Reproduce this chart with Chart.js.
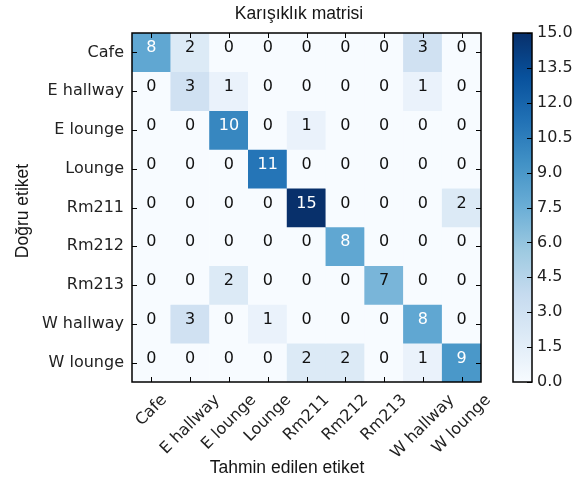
<!DOCTYPE html>
<html>
<head>
<meta charset="utf-8">
<script src="https://cdn.jsdelivr.net/npm/chart.js@4/dist/chart.umd.min.js"></script>
<style>
  html, body { margin: 0; padding: 0; background: #ffffff; }
  #wrap { position: relative; width: 582px; height: 481px; overflow: hidden; background: #ffffff; }
  #matrix { position: absolute; left: 0; top: 0; }
  #scaleBar { position: absolute; left: 490px; top: 0; }
</style>
</head>
<body>
<div id="wrap">
  <canvas id="matrix" width="582" height="481"></canvas>
  <canvas id="scaleBar" width="92" height="481"></canvas>
</div>
<script>
// Class names (same order on both axes)
const categories = ['Cafe', 'E hallway', 'E lounge', 'Lounge', 'Rm211', 'Rm212', 'Rm213', 'W hallway', 'W lounge'];

// Counts per true class (rows), one entry per predicted class (columns)
const rowCafe     = [8, 2, 0, 0, 0, 0, 0, 3, 0];
const rowEHallway = [0, 3, 1, 0, 0, 0, 0, 1, 0];
const rowELounge  = [0, 0, 10, 0, 1, 0, 0, 0, 0];
const rowLounge   = [0, 0, 0, 11, 0, 0, 0, 0, 0];
const rowRm211    = [0, 0, 0, 0, 15, 0, 0, 0, 2];
const rowRm212    = [0, 0, 0, 0, 0, 8, 0, 0, 0];
const rowRm213    = [0, 0, 2, 0, 0, 0, 7, 0, 0];
const rowWHallway = [0, 3, 0, 1, 0, 0, 0, 8, 0];
const rowWLounge  = [0, 0, 0, 0, 2, 2, 0, 1, 9];

// Colour bar tick values
const colorbarTicks = [0, 1.5, 3, 4.5, 6, 7.5, 9, 10.5, 12, 13.5, 15];

const chartTitle = 'Karışıklık matrisi';
const xAxisTitle = 'Tahmin edilen etiket';
const yAxisTitle = 'Doğru etiket';

const matrixRows = [rowCafe, rowEHallway, rowELounge, rowLounge, rowRm211, rowRm212, rowRm213, rowWHallway, rowWLounge];
const valueMax = Math.max(...matrixRows.flat());
const textThreshold = valueMax / 2;

// "Blues" sequential palette
const bluesStops = ['#f7fbff', '#deebf7', '#c6dbef', '#9ecae1', '#6baed6', '#4292c6', '#2171b5', '#08519c', '#08306b'];

function hexToRgb(h) {
  const n = parseInt(h.slice(1), 16);
  return [(n >> 16) & 255, (n >> 8) & 255, n & 255];
}
function bluesAt(t) {
  t = Math.max(0, Math.min(1, t));
  const pos = t * (bluesStops.length - 1);
  const i = Math.min(Math.floor(pos), bluesStops.length - 2);
  const f = pos - i;
  const a = hexToRgb(bluesStops[i]), b = hexToRgb(bluesStops[i + 1]);
  const c = a.map((v, k) => Math.round(v + (b[k] - v) * f));
  return `rgb(${c[0]},${c[1]},${c[2]})`;
}

const tickFont = { family: 'DejaVu Sans', size: 16 };
const tickColor = '#222222';
const captionFont = '17.5px "Liberation Sans", Arial, sans-serif';
const captionColor = '#151515';

// Each row becomes one dataset of floating bars spanning that row's band
const datasets = matrixRows.map((row, r) => ({
  label: categories[r],
  data: row.map(() => [r - 0.5, r + 0.5]),
  counts: row,
  backgroundColor: row.map(v => bluesAt(v / valueMax)),
  borderWidth: 0,
  grouped: false,
  barPercentage: 1,
  categoryPercentage: 1
}));

const matrixDecor = {
  id: 'matrixDecor',
  afterDatasetsDraw(chart) {
    const { ctx, scales: { x, y } } = chart;
    ctx.save();
    ctx.font = `${tickFont.size}px "${tickFont.family}"`;
    ctx.textAlign = 'center';
    ctx.textBaseline = 'alphabetic';
    chart.data.datasets.forEach((ds, r) => {
      ds.counts.forEach((v, c) => {
        ctx.fillStyle = v > textThreshold ? '#ffffff' : '#111111';
        ctx.fillText(String(v), x.getPixelForValue(c), y.getPixelForValue(r));
      });
    });
    ctx.restore();
  },
  afterDraw(chart) {
    const { ctx, chartArea: a, scales: { x, y } } = chart;
    ctx.save();
    // inward tick marks on all four sides
    ctx.strokeStyle = '#000000';
    ctx.lineWidth = 1;
    ctx.beginPath();
    categories.forEach((_, i) => {
      const px = Math.round(x.getPixelForValue(i)) + 0.5;
      ctx.moveTo(px, a.bottom); ctx.lineTo(px, a.bottom - 5);
      ctx.moveTo(px, a.top); ctx.lineTo(px, a.top + 5);
      const py = Math.round(y.getPixelForValue(i)) + 0.5;
      ctx.moveTo(a.left, py); ctx.lineTo(a.left + 5, py);
      ctx.moveTo(a.right, py); ctx.lineTo(a.right - 5, py);
    });
    ctx.stroke();
    // axes frame
    ctx.lineWidth = 1.5;
    ctx.strokeRect(a.left, a.top, a.right - a.left, a.bottom - a.top);

    // rotated column labels, centred under their ticks
    ctx.font = `${tickFont.size}px "${tickFont.family}"`;
    ctx.fillStyle = tickColor;
    ctx.textAlign = 'right';
    ctx.textBaseline = 'middle';
    const c45 = Math.SQRT1_2;
    const labelTop = a.bottom + 10;
    categories.forEach((label, i) => {
      const w = ctx.measureText(label).width;
      const tx = x.getPixelForValue(i) + c45 * w / 2;
      const ty = labelTop + c45 * tickFont.size / 2;
      ctx.save();
      ctx.translate(tx, ty);
      ctx.rotate(-Math.PI / 4);
      ctx.fillText(label, 0, 0);
      ctx.restore();
    });

    // captions
    ctx.font = captionFont;
    ctx.fillStyle = captionColor;
    ctx.textAlign = 'center';
    ctx.textBaseline = 'alphabetic';
    ctx.fillText(chartTitle, 299, 19);
    ctx.fillText(xAxisTitle, 287, 473);
    ctx.save();
    ctx.translate(28, 211);
    ctx.rotate(-Math.PI / 2);
    ctx.fillText(yAxisTitle, 0, 0);
    ctx.restore();
    ctx.restore();
  }
};

new Chart(document.getElementById('matrix'), {
  type: 'bar',
  data: { labels: categories, datasets },
  options: {
    responsive: false,
    animation: false,
    events: [],
    layout: { padding: { top: 33, right: 101, bottom: 0, left: 0 } },
    scales: {
      x: {
        type: 'category',
        offset: true,
        grid: { display: false, drawTicks: false },
        border: { display: false },
        ticks: { display: false },
        afterFit(s) { s.height = 99; }
      },
      y: {
        type: 'linear',
        reverse: true,
        min: -0.5,
        max: categories.length - 0.5,
        afterBuildTicks(s) { s.ticks = categories.map((_, i) => ({ value: i })); },
        ticks: {
          callback: v => categories[v],
          font: tickFont,
          color: tickColor,
          padding: 8,
          autoSkip: false
        },
        grid: { display: false, drawTicks: false },
        border: { display: false },
        afterFit(s) { s.width = 132; }
      }
    },
    plugins: { legend: { display: false }, tooltip: { enabled: false }, title: { display: false } }
  },
  plugins: [matrixDecor]
});

// Colour bar
const colorbarDecor = {
  id: 'colorbarDecor',
  afterDraw(chart) {
    const { ctx, chartArea: a, scales: { y } } = chart;
    ctx.save();
    ctx.strokeStyle = '#000000';
    ctx.lineWidth = 1;
    ctx.beginPath();
    colorbarTicks.forEach(v => {
      const py = Math.round(y.getPixelForValue(v)) + 0.5;
      ctx.moveTo(a.right, py); ctx.lineTo(a.right - 5, py);
    });
    ctx.stroke();
    ctx.lineWidth = 1.5;
    ctx.strokeRect(a.left, a.top, a.right - a.left, a.bottom - a.top);
    ctx.restore();
  }
};

new Chart(document.getElementById('scaleBar'), {
  type: 'bar',
  data: {
    labels: [''],
    datasets: [{
      data: [[0, valueMax]],
      backgroundColor(c) {
        const chart = c.chart;
        if (!chart.chartArea) return bluesStops[0];
        const ys = chart.scales.y;
        const g = chart.ctx.createLinearGradient(0, ys.getPixelForValue(0), 0, ys.getPixelForValue(valueMax));
        bluesStops.forEach((col, i) => g.addColorStop(i / (bluesStops.length - 1), col));
        return g;
      },
      borderWidth: 0,
      barPercentage: 1,
      categoryPercentage: 1
    }]
  },
  options: {
    responsive: false,
    animation: false,
    events: [],
    layout: { padding: { left: 23, right: 0, top: 33, bottom: 99 } },
    scales: {
      x: { display: false },
      y: {
        position: 'right',
        min: 0,
        max: valueMax,
        afterBuildTicks(s) { s.ticks = colorbarTicks.map(v => ({ value: v })); },
        ticks: { callback: v => v.toFixed(1), font: tickFont, color: tickColor, padding: 5, autoSkip: false },
        grid: { display: false, drawTicks: false },
        border: { display: false },
        afterFit(s) { s.width = 50; }
      }
    },
    plugins: { legend: { display: false }, tooltip: { enabled: false } }
  },
  plugins: [colorbarDecor]
});
</script>
</body>
</html>
